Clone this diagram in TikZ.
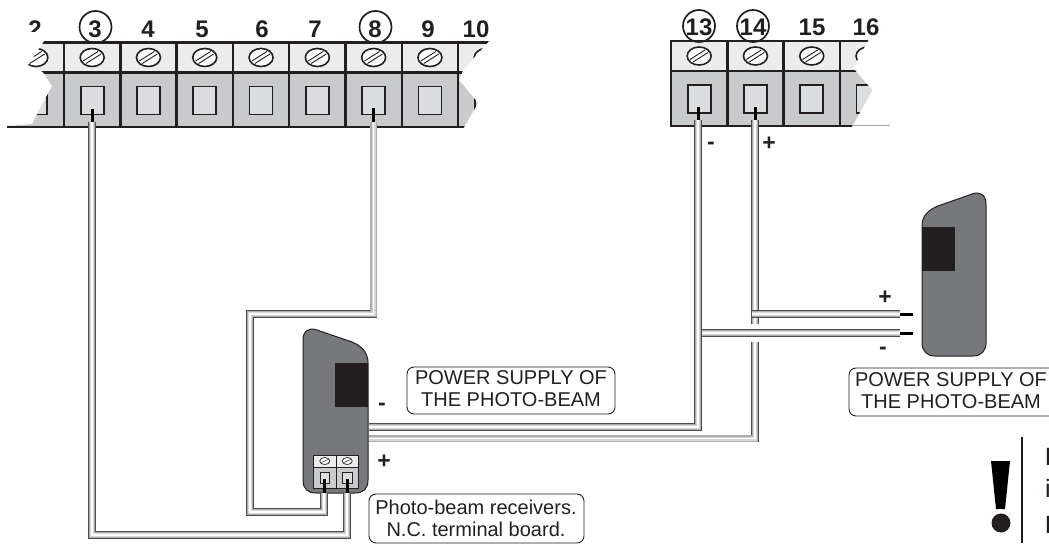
\documentclass[tikz,border=0pt]{standalone}
\usepackage{fontspec}
\setmainfont{Liberation Sans}
\usetikzlibrary{shapes.geometric}
\definecolor{inkdark}{HTML}{231F20}
\definecolor{bodygray}{HTML}{77787B}
\definecolor{cellgray}{HTML}{C9CACC}
\definecolor{celllight}{HTML}{ECECED}
\definecolor{holegray}{HTML}{DCDDDE}
\tikzset{
    upcell/.style={rectangle, draw=inkdark, fill=celllight, line width=2.4pt, minimum width=56.3pt, minimum height=30pt, inner sep=0pt, outer sep=0pt},
    lowcell/.style={rectangle, draw=inkdark, fill=cellgray, line width=2.4pt, minimum width=56.3pt, minimum height=54.5pt, inner sep=0pt, outer sep=0pt},
    hole/.style={rectangle, draw=inkdark, fill=holegray, line width=1.8pt, minimum width=23pt, minimum height=28pt, inner sep=0pt, outer sep=0pt},
    screw/.style={ellipse, draw=inkdark, fill=white, line width=1.6pt, minimum width=24pt, minimum height=18pt, inner sep=0pt},
    upsmall/.style={rectangle, draw=inkdark, fill=celllight, line width=.8pt, minimum width=22.5pt, minimum height=12pt, inner sep=0pt, outer sep=0pt},
    lowsmall/.style={rectangle, draw=inkdark, fill=cellgray, line width=.8pt, minimum width=22.5pt, minimum height=21pt, inner sep=0pt, outer sep=0pt},
    holesmall/.style={rectangle, draw=inkdark, fill=holegray, line width=.9pt, minimum width=9.5pt, minimum height=11pt, inner sep=0pt, outer sep=0pt},
    screwsmall/.style={ellipse, draw=inkdark, fill=white, line width=.7pt, minimum width=10pt, minimum height=7pt, inner sep=0pt},
    numlabel/.style={font=\fontsize{24}{24}\selectfont\bfseries, text=inkdark, inner sep=0pt},
    ringmark/.style={circle, draw=inkdark, line width=1.7pt, minimum size=32pt, inner sep=0pt},
    signlabel/.style={font=\fontsize{23}{23}\selectfont\bfseries, text=inkdark, inner sep=0pt},
    notebox/.style={draw=inkdark, line width=.9pt, rounded corners=7pt},
    notetext/.style={font=\fontsize{20}{22}\selectfont, text=inkdark, align=center, inner sep=0pt},
    edgeletter/.style={font=\fontsize{25}{25}\selectfont, text=inkdark, anchor=base west, inner sep=0pt},
    wire/.style={line width=7.6pt, draw=black!70, postaction={draw=black!32, line width=6.2pt}, postaction={draw=black!16, line width=4pt}, postaction={draw=white, line width=1.8pt}},
    stub/.style={draw=black, line width=3pt},
    beambody/.style={draw=inkdark, fill=bodygray, line width=1pt},
    beamlens/.style={fill=inkdark}
}
\newcommand{\termcell}[3]{
    \node[upcell] (up#3) at (#1+28.15, #2+15) {};
    \node[lowcell] (low#3) at (#1+28.15, #2+57.5) {};
    \node[screw] (screw#3) at (#1+28.15, #2+15) {};
    \draw[inkdark, line width=.9pt] (#1+19, #2+18.5) -- (#1+34, #2+9);
    \draw[inkdark, line width=.9pt] (#1+22, #2+21) -- (#1+37, #2+11.5);
    \node[hole] (hole#3) at (#1+28.15, #2+58) {};
}
\newcommand{\termsmall}[3]{
    \node[upsmall] (up#3) at (#1+11.25, #2+6) {};
    \node[lowsmall] (low#3) at (#1+11.25, #2+22.5) {};
    \node[screwsmall] (screw#3) at (#1+11.25, #2+6) {};
    \draw[inkdark, line width=.5pt] (#1+8, #2+7.5) -- (#1+14.5, #2+4.5);
    \node[holesmall] (hole#3) at (#1+11.25, #2+22.5) {};
}
\begin{document}
\begin{tikzpicture}[x=1pt, y=-1pt]
                \useasboundingbox (0,0) rectangle (1049,544);

                \begin{scope}
                    \clip (45,40) -- (28,65) -- (43,72) -- (52,86) -- (32,124) -- (7,126) -- (7,129) -- (463,129) -- (478,103) -- (459,80) -- (463,70) -- (490,40) -- cycle;
                    \termcell{7.7}{42.5}{b}
                    \termcell{64}{42.5}{c}
                    \termcell{120.3}{42.5}{d}
                    \termcell{176.6}{42.5}{e}
                    \termcell{232.9}{42.5}{f}
                    \termcell{289.2}{42.5}{g}
                    \termcell{345.5}{42.5}{h}
                    \termcell{401.8}{42.5}{i}
                    \termcell{458.1}{42.5}{j}
                \end{scope}

                \begin{scope}
                    \clip (640,39) -- (869,39) -- (853,68) -- (872,90) -- (852,127) -- (640,127) -- cycle;
                    \termcell{671}{41}{m}
                    \termcell{727.3}{41}{n}
                    \termcell{783.6}{41}{o}
                    \termcell{839.9}{41}{p}
                \end{scope}
                \coordinate (railend) at (890,125.5);
                \coordinate (railstart) at (852,125.5);
                \draw[black!35, line width=.7pt] (railstart) -- (railend);

                \begin{scope}
                    \clip (20,10) rectangle (50,31);
                    \node[numlabel] (num2) at (35,29) {2};
                \end{scope}
                \node[numlabel] (num3) at (95,29) {3};
                \node[ringmark] (ring3) at (95.5,27) {};
                \node[numlabel] (num4) at (148,29) {4};
                \node[numlabel] (num5) at (202,29) {5};
                \node[numlabel] (num6) at (262,29) {6};
                \node[numlabel] (num7) at (315,29) {7};
                \node[numlabel] (num8) at (375,29) {8};
                \node[ringmark] (ring8) at (375.5,27) {};
                \node[numlabel] (num9) at (428,29) {9};
                \node[numlabel] (num10) at (476,29) {10};
                \node[numlabel] (num13) at (699,27) {13};
                \node[ringmark] (ring13) at (699,26) {};
                \node[numlabel] (num14) at (753,27) {14};
                \node[ringmark] (ring14) at (753,26) {};
                \node[numlabel] (num15) at (812,27) {15};
                \node[numlabel] (num16) at (866,27) {16};

                \draw[beambody] (303,340) .. controls (303,331) and (309,327) .. (317,330) -- (352,342) .. controls (362,346) and (368,353) .. (368,363) -- (368,480) .. controls (368,489) and (363,493) .. (355,493) -- (316,493) .. controls (308,493) and (303,489) .. (303,480) -- cycle;
                \fill[beamlens] (335,363) rectangle (368,407);
                \termsmall{313.5}{455}{r}
                \termsmall{336}{455}{s}

                \draw[beambody] (986,204) .. controls (986,195) and (980,191) .. (972,194) -- (938,206) .. controls (928,210) and (922,216) .. (922,226) -- (922,343) .. controls (922,351) and (927,356) .. (935,356) -- (973,356) .. controls (981,356) and (986,351) .. (986,343) -- cycle;
                \fill[beamlens] (922,227) rectangle (955,271);

                \coordinate (pin3) at (92,122);
                \coordinate (pin3b) at (92,535);
                \coordinate (pins) at (347,493);
                \coordinate (pin3c) at (347,535);
                \coordinate (pin8) at (373.5,122);
                \coordinate (pin8b) at (373.5,314);
                \coordinate (pin8c) at (250,314);
                \coordinate (pin8d) at (250,512);
                \coordinate (pin8e) at (324,512);
                \coordinate (pinr) at (324,493);
                \coordinate (pin13) at (698,120);
                \coordinate (pin13b) at (698,427);
                \coordinate (rxminus) at (369,427);
                \coordinate (pin14) at (755,120);
                \coordinate (pin14b) at (755,324);
                \coordinate (pin14c) at (755,342);
                \coordinate (pin14d) at (755,438.5);
                \coordinate (rxplus) at (369,438.5);
                \coordinate (txplusa) at (751.5,314);
                \coordinate (txplus) at (900,314);
                \coordinate (txminusa) at (701.5,333);
                \coordinate (txminus) at (900,333);
                \coordinate (txplusb) at (913,314);
                \coordinate (txminusb) at (913,333);

                \draw[stub] (pin3 |- 0,109) -- (pin3);
                \draw[stub] (pin8 |- 0,108) -- (pin8);
                \draw[stub] (pin13 |- 0,107) -- (pin13);
                \draw[stub] (pin14 |- 0,107) -- (pin14);
                \draw[stub] (pins |- 0,479) -- (pins);
                \draw[stub] (pinr |- 0,479) -- (pinr);
                \draw[stub] (txplus) -- (txplusb);
                \draw[stub] (txminus) -- (txminusb);

                \draw[wire] (pin3) -- (pin3b) -- (pin3c) -- (pins);
                \draw[wire] (pin8) -- (pin8b) -- (pin8c) -- (pin8d) -- (pin8e) -- (pinr);
                \draw[wire] (pin13) -- (pin13b) -- (rxminus);
                \draw[wire] (pin14) -- (pin14b);
                \draw[wire] (pin14c) -- (pin14d) -- (rxplus);
                \draw[wire] (txplusa) -- (txplus);
                \draw[wire] (txminusa) -- (txminus);

                \node[signlabel] (signa) at (711,146) {-};
                \node[signlabel] (signb) at (769,144) {+};
                \node[signlabel] (signc) at (885,298) {+};
                \node[signlabel] (signd) at (883,351) {-};
                \node[signlabel] (signe) at (382,407) {-};
                \node[signlabel] (signf) at (384,462) {+};

                \draw[notebox] (407,367) rectangle (615,414);
                \node[notetext] (notemid) at (511,389) {POWER SUPPLY OF\\THE PHOTO-BEAM};
                \draw[notebox] (849,368) rectangle (1060,416);
                \node[notetext] (noteright) at (951,391) {POWER SUPPLY OF\\THE PHOTO-BEAM};
                \draw[notebox] (369,494) rectangle (584,543);
                \node[notetext] (notelow) at (476,518) {Photo-beam receivers.\\N.C. terminal board.};

                \fill[black] (991,461) -- (1010,461) -- (1005,509) -- (996,509) -- cycle;
                \fill[inkdark] (1001,523) circle (9.5);
                \coordinate (bartop) at (1022,437);
                \coordinate (barbottom) at (1022,543);
                \draw[inkdark, line width=1.8pt] (bartop) -- (barbottom);
                \node[edgeletter] (letterone) at (1044.5,465) {I};
                \node[edgeletter] (lettertwo) at (1045,497) {i};
                \node[edgeletter] (letterthree) at (1044.5,533) {I};
            \end{tikzpicture}
\end{document}
